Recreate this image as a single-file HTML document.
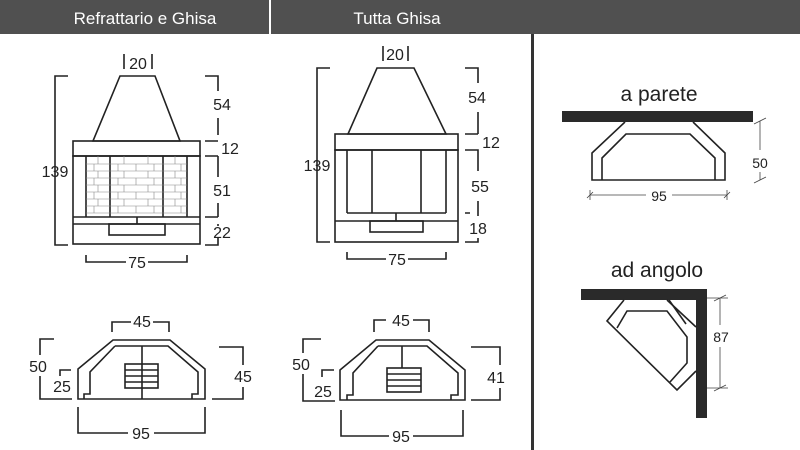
<!DOCTYPE html>
<html><head><meta charset="utf-8"><style>
html,body{margin:0;padding:0;background:#fff;}
svg{display:block;}
text{font-family:"Liberation Sans",sans-serif;}
</style></head><body>
<svg width="800" height="450" viewBox="0 0 800 450" xmlns="http://www.w3.org/2000/svg">
<rect x="0" y="0" width="800" height="34" fill="#505050"/>
<rect x="269" y="0" width="2" height="34" fill="#fff"/>
<text x="145" y="24" font-size="17" fill="#fff" text-anchor="middle">Refrattario e Ghisa</text>
<text x="397" y="24" font-size="17" fill="#fff" text-anchor="middle">Tutta Ghisa</text>
<rect x="531" y="34" width="3" height="416" fill="#333"/>

<g fill="none" stroke="#222" stroke-width="1.6">
<!-- Drawing 1 -->
<path d="M124 54V69M152 54V69"/>
<path d="M120 76H155L180 141H93Z"/>
<rect x="73" y="141" width="127" height="15"/>
<rect x="73" y="156" width="127" height="88"/>
<path d="M86 156V217M110 156V217M163 156V217M187 156V217M73 217H200M86 224H200M73 224H86M137 217V224"/>
<rect x="109" y="224" width="56" height="11"/>
<g stroke-width="0.6" stroke="#888">
<path d="M86 164H187M86 171H187M86 178H187M86 185H187M86 192H187M86 199H187M86 206H187M86 213H187"/>
<path d="M98 156V164M124 156V164M148 156V164M175 156V164M94 164V171M118 164V171M136 164V171M154 164V171M181 164V171M98 171V178M124 171V178M148 171V178M175 171V178M94 178V185M118 178V185M136 178V185M154 178V185M181 178V185M98 185V192M124 185V192M148 185V192M175 185V192M94 192V199M118 192V199M136 192V199M154 192V199M181 192V199M98 199V206M124 199V206M148 199V206M175 199V206M94 206V213M118 206V213M136 206V213M154 206V213M181 206V213"/>
</g>
<path d="M68 76H55V245H68"/>
<path d="M205 76H218V91M218 118V135M205 141H218M205 156H218M218 156V177M218 203V217M205 217H218M218 224V226M205 245H218V238"/>
<path d="M86 255V262H126M148 262H187V255"/>
<!-- Drawing 2 -->
<path d="M383 46V61M408 46V61"/>
<path d="M377 68H414L446 134H348Z"/>
<rect x="335" y="134" width="123" height="16"/>
<rect x="335" y="150" width="123" height="92"/>
<path d="M347 150V213M372 150V213M421 150V213M446 150V213M347 213H446M335 221H458M396 213V221"/>
<rect x="370" y="221" width="53" height="11"/>
<path d="M330 68H317V242H330"/>
<path d="M465 68H478V83M478 112V134M465 134H478M465 150H478V171M478 201V213M465 213H470M478 213V216M465 242H478V238"/>
<path d="M347 252V259H386M408 259H446V252"/>
<!-- Plan 1 -->
<path d="M113 340H170L205 369V399H78V369Z"/>
<path d="M115 346H168L198 372V394H192V399M84 399V394H90V372L115 346M142 346V399"/>
<rect x="125" y="364" width="33" height="24"/>
<path d="M125 370H158M125 376H158M125 382H158"/>
<path d="M112 332V322H131M153 322H169V332"/>
<path d="M54 339H40V355M40 376V399H72"/>
<path d="M71 370H60V376"/>
<path d="M219 347H243V365M243 387V399H212"/>
<path d="M78 407V433H128M154 433H205V407"/>
<!-- Plan 2 -->
<path d="M376 340H429L465 370V400H340V370Z"/>
<path d="M378 346H427L458 373V395H451V400M347 400V395H353V373L378 346M402 346V368"/>
<rect x="387" y="368" width="34" height="24"/>
<path d="M387 374H421M387 380H421M387 386H421"/>
<path d="M374 332V320H386M413 320H429V332"/>
<path d="M321 339H303V353M303 374V401H335"/>
<path d="M334 370H322V377"/>
<path d="M471 347H500V365M500 388V400H471"/>
<path d="M341 410V436H389M413 436H463V410"/>
<!-- a parete -->
<path d="M625 122L592 153V180H725V153L693 122"/>
<path d="M602 180V158L626 134H690L715 158V180"/>
<path d="M686 324L669 300"/>
</g>
<rect x="562" y="111" width="191" height="11" fill="#2a2a2a"/>
<g fill="none" stroke="#444" stroke-width="0.8">
<path d="M760 121V150M760 172V180M754 124L766 118M754 183L766 177"/>
<path d="M590 195H646M672 195H727M587 198L593 192M724 198L730 192M590 190V200M727 190V200"/>
<path d="M720 298V325M720 347V388M714 301L726 295M714 391L726 385M707 298H728M707 388H728"/>
</g>
<rect x="581" y="289" width="126" height="11" fill="#2a2a2a"/>
<rect x="696" y="289" width="11" height="129" fill="#2a2a2a"/>
<g fill="none" stroke="#222" stroke-width="1.6">
<path d="M624 300L607 321L677 390L696 371"/>
<path d="M617 328L627 311H667L687 337V363L670 382"/>
<path d="M667 300L696 327"/>
</g>

<g font-size="16" fill="#222" text-anchor="middle">
<text x="138" y="69">20</text>
<text x="55" y="177">139</text>
<text x="222" y="110">54</text>
<text x="230" y="154">12</text>
<text x="222" y="196">51</text>
<text x="222" y="238">22</text>
<text x="137" y="268">75</text>
<text x="395" y="60">20</text>
<text x="317" y="171">139</text>
<text x="477" y="103">54</text>
<text x="491" y="148">12</text>
<text x="480" y="192">55</text>
<text x="478" y="234">18</text>
<text x="397" y="265">75</text>
<text x="142" y="327">45</text>
<text x="38" y="372">50</text>
<text x="62" y="392">25</text>
<text x="243" y="382">45</text>
<text x="141" y="439">95</text>
<text x="401" y="326">45</text>
<text x="301" y="370">50</text>
<text x="323" y="397">25</text>
<text x="496" y="383">41</text>
<text x="401" y="442">95</text>
<text x="760" y="168" font-size="14">50</text>
<text x="659" y="201" font-size="14">95</text>
<text x="721" y="342" font-size="14">87</text>
</g>
<text x="659" y="101" font-size="21" fill="#222" text-anchor="middle">a parete</text>
<text x="657" y="277" font-size="21" fill="#222" text-anchor="middle">ad angolo</text>
</svg>
</body></html>
